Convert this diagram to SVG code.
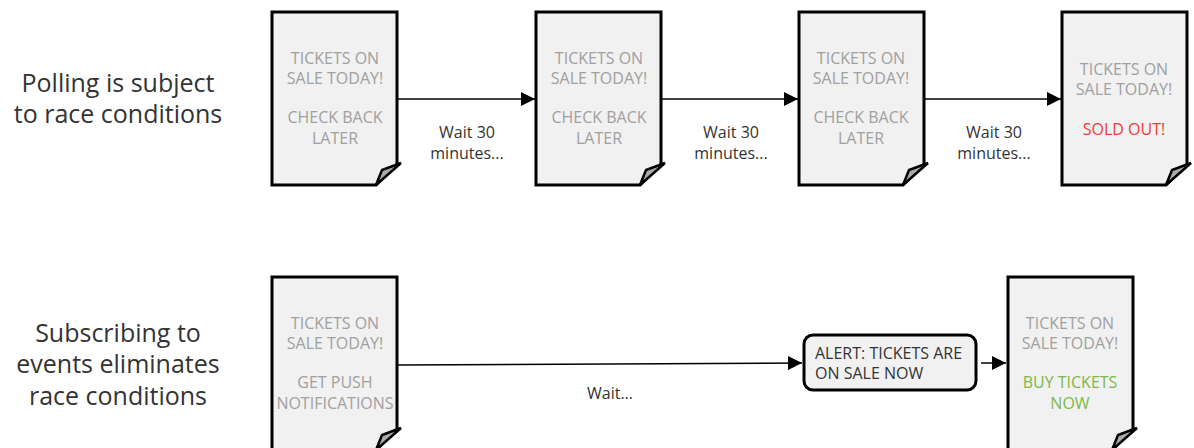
<svg xmlns="http://www.w3.org/2000/svg" width="1194" height="448" viewBox="0 0 1194 448">
<defs>
<style>
.doc{fill:#f1f1f1;stroke:#000;stroke-width:3;stroke-linejoin:miter}
.fold{fill:#aaa;stroke:#000;stroke-width:2.5;stroke-linejoin:miter}
.dt{font-family:"Open Sans",sans-serif;font-size:16px;fill:#a0a0a0;text-anchor:middle}
.lbl{font-family:"Open Sans",sans-serif;font-size:16px;fill:#333;text-anchor:middle}
.big{font-family:"Open Sans",sans-serif;font-size:25px;fill:#333;text-anchor:middle}
.edge{stroke:#000;stroke-width:1.5;fill:none}
</style>
<marker id="ah" viewBox="0 0 10 10" refX="10" refY="5" markerWidth="14" markerHeight="14" markerUnits="userSpaceOnUse" orient="auto">
<path d="M0,0 L10,5 L0,10 Z" fill="#000"/>
</marker>
<g id="page">
<path class="doc" d="M0,0 H125 V152 L104,173 H0 Z"/>
<path class="fold" d="M129,151 L110,158 L104,173 Z"/>
</g>
</defs>

<g id="labels">
<text class="big" x="118" y="92">Polling is subject</text>
<text class="big" x="118" y="123">to race conditions</text>
<text class="big" x="118" y="342">Subscribing to</text>
<text class="big" x="118" y="373">events eliminates</text>
<text class="big" x="118" y="405">race conditions</text>
</g>

<g id="connectors">
<line class="edge" x1="398" y1="99" x2="535" y2="99" marker-end="url(#ah)"/>
<line class="edge" x1="662" y1="99" x2="798" y2="99" marker-end="url(#ah)"/>
<line class="edge" x1="925" y1="99" x2="1061" y2="99" marker-end="url(#ah)"/>
<line class="edge" x1="398" y1="365" x2="802" y2="363" marker-end="url(#ah)"/>
<line class="edge" x1="981" y1="363" x2="1006" y2="363" marker-end="url(#ah)"/>
<text class="lbl" x="467" y="138">Wait 30</text>
<text class="lbl" x="467" y="159">minutes...</text>
<text class="lbl" x="731" y="138">Wait 30</text>
<text class="lbl" x="731" y="159">minutes...</text>
<text class="lbl" x="994" y="138">Wait 30</text>
<text class="lbl" x="994" y="159">minutes...</text>
<text class="lbl" x="610" y="399">Wait...</text>
</g>

<g id="poll1">
<use href="#page" x="272" y="12"/>
<text class="dt" x="335" y="64">TICKETS ON</text>
<text class="dt" x="335" y="84">SALE TODAY!</text>
<text class="dt" x="335" y="123">CHECK BACK</text>
<text class="dt" x="335" y="144">LATER</text>
</g>
<g id="poll2">
<use href="#page" x="536" y="12"/>
<text class="dt" x="599" y="64">TICKETS ON</text>
<text class="dt" x="599" y="84">SALE TODAY!</text>
<text class="dt" x="599" y="123">CHECK BACK</text>
<text class="dt" x="599" y="144">LATER</text>
</g>
<g id="poll3">
<use href="#page" x="799" y="12"/>
<text class="dt" x="861" y="64">TICKETS ON</text>
<text class="dt" x="861" y="84">SALE TODAY!</text>
<text class="dt" x="861" y="123">CHECK BACK</text>
<text class="dt" x="861" y="144">LATER</text>
</g>
<g id="poll4">
<use href="#page" x="1062" y="12"/>
<text class="dt" x="1124" y="75">TICKETS ON</text>
<text class="dt" x="1124" y="95">SALE TODAY!</text>
<text class="dt" x="1124" y="135" style="fill:#f03a3a">SOLD OUT!</text>
</g>

<g id="sub1">
<use href="#page" x="272" y="277"/>
<text class="dt" x="335" y="329">TICKETS ON</text>
<text class="dt" x="335" y="349">SALE TODAY!</text>
<text class="dt" x="335" y="388">GET PUSH</text>
<text class="dt" x="335" y="409">NOTIFICATIONS</text>
</g>
<g id="alert">
<rect x="804" y="335" width="172" height="55" rx="9" fill="#f1f1f1" stroke="#000" stroke-width="3"/>
<text x="815" y="359" style="font-family:'Open Sans',sans-serif;font-size:16px;fill:#333">ALERT: TICKETS ARE</text>
<text x="815" y="379" style="font-family:'Open Sans',sans-serif;font-size:16px;fill:#333">ON SALE NOW</text>
</g>
<g id="sub2">
<use href="#page" x="1008" y="277"/>
<text class="dt" x="1070" y="329">TICKETS ON</text>
<text class="dt" x="1070" y="349">SALE TODAY!</text>
<text class="dt" x="1070" y="388" style="fill:#7cb84a">BUY TICKETS</text>
<text class="dt" x="1070" y="409" style="fill:#7cb84a">NOW</text>
</g>
</svg>
